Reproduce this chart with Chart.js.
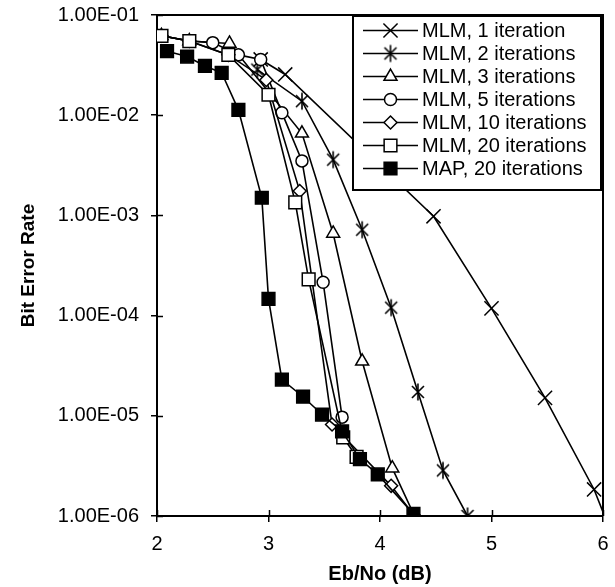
<!DOCTYPE html>
<html>
<head>
<meta charset="utf-8">
<script src="https://cdn.jsdelivr.net/npm/chart.js@4.4.1/dist/chart.umd.min.js"></script>
<style>
html,body{margin:0;padding:0;background:#fff;}
canvas{display:block;}
</style>
</head>
<body>
<canvas id="c" width="615" height="587"></canvas>
<script>
// ---- data ----
const seriesNames = ['MLM, 1 iteration','MLM, 2 iterations','MLM, 3 iterations','MLM, 5 iterations','MLM, 10 iterations','MLM, 20 iterations','MAP, 20 iterations'];

const mlm1X  = [2.93, 3.15, 4.48, 5.0, 5.48, 5.92, 6.2];
const mlm1Y  = [3.6e-2, 2.55e-2, 9.8e-4, 1.18e-4, 1.51e-5, 1.84e-6, 3.0e-7];

const mlm2X  = [2.9, 3.3, 3.58, 3.84, 4.1, 4.34, 4.565, 4.785];
const mlm2Y  = [2.85e-2, 1.38e-2, 3.6e-3, 7.2e-4, 1.2e-4, 1.73e-5, 2.85e-6, 1.0e-6];

const mlm3X  = [2.04, 2.29, 2.65, 3.3, 3.58, 3.84, 4.11, 4.31];
const mlm3Y  = [6.2e-2, 5.5e-2, 5.2e-2, 6.6e-3, 6.6e-4, 3.5e-5, 3.0e-6, 1.0e-6];

const mlm5X  = [2.04, 2.29, 2.5, 2.73, 2.93, 3.12, 3.3, 3.49, 3.66];
const mlm5Y  = [6.2e-2, 5.5e-2, 5.3e-2, 4.0e-2, 3.6e-2, 1.06e-2, 3.5e-3, 2.15e-4, 9.7e-6];

const mlm10X = [2.04, 2.29, 2.64, 2.98, 3.28, 3.57, 4.1, 4.31];
const mlm10Y = [6.2e-2, 5.5e-2, 4.0e-2, 2.25e-2, 1.75e-3, 8.2e-6, 2.0e-6, 1.0e-6];

const mlm20X = [2.04, 2.29, 2.64, 3.0, 3.24, 3.36, 3.67, 3.79];
const mlm20Y = [6.2e-2, 5.5e-2, 4.0e-2, 1.6e-2, 1.35e-3, 2.3e-4, 6.1e-6, 3.9e-6];

const mapX   = [2.09, 2.27, 2.43, 2.58, 2.73, 2.94, 3.0, 3.12, 3.31, 3.48, 3.66, 3.82, 3.98, 4.3];
const mapY   = [4.35e-2, 3.85e-2, 3.1e-2, 2.65e-2, 1.13e-2, 1.5e-3, 1.47e-4, 2.3e-5, 1.55e-5, 1.03e-5, 7.0e-6, 3.7e-6, 2.6e-6, 1.05e-6];

const xTickValues = [2, 3, 4, 5, 6];
const xTickLabels = ['2', '3', '4', '5', '6'];
const yTickValues = [1e-6, 1e-5, 1e-4, 1e-3, 1e-2, 1e-1];
const yTickLabels = ['1.00E-06', '1.00E-05', '1.00E-04', '1.00E-03', '1.00E-02', '1.00E-01'];

const xTitle = 'Eb/No (dB)';
const yTitle = 'Bit Error Rate';

// ---- build ----
const FONT = "'Liberation Sans', Arial, Helvetica, sans-serif";
const AREA = {left: 157, top: 15, right: 603, bottom: 516};
const W = 615, H = 587;

function pts(xs, ys) { return xs.map((x, i) => ({x: x, y: ys[i]})); }

// six-armed asterisk marker (X plus a vertical bar)
function makeAsterisk() {
  const c = document.createElement('canvas');
  c.width = 20; c.height = 20;
  const g = c.getContext('2d');
  g.strokeStyle = '#000';
  g.lineWidth = 1.6;
  g.lineCap = 'butt';
  g.beginPath();
  g.moveTo(10, 1.5); g.lineTo(10, 18.5);
  g.moveTo(4, 4); g.lineTo(16, 16);
  g.moveTo(16, 4); g.lineTo(4, 16);
  g.stroke();
  return c;
}
const asterisk = makeAsterisk();

const styles = [
  {pointStyle: 'crossRot', pointRadius: 10, bg: '#fff', order: 6, clip: 0},
  {pointStyle: asterisk,   pointRadius: 9,  bg: '#fff', order: 5},
  {pointStyle: 'triangle', pointRadius: 7.5, bg: '#fff', order: 4},
  {pointStyle: 'circle',   pointRadius: 6,   bg: '#fff', order: 3},
  {pointStyle: 'rectRot',  pointRadius: 6.5, bg: '#fff', order: 2},
  {pointStyle: 'rect',     pointRadius: 9,   bg: '#fff', order: 1},
  {pointStyle: 'rect',     pointRadius: 9,   bg: '#000', order: 0}
];
const seriesData = [
  pts(mlm1X, mlm1Y), pts(mlm2X, mlm2Y), pts(mlm3X, mlm3Y), pts(mlm5X, mlm5Y),
  pts(mlm10X, mlm10Y), pts(mlm20X, mlm20Y), pts(mapX, mapY)
];

const datasets = seriesNames.map((name, i) => {
  const s = styles[i];
  const d = {
    label: name,
    data: seriesData[i],
    borderColor: '#000',
    borderWidth: 1.6,
    backgroundColor: s.bg,
    pointStyle: s.pointStyle,
    pointRadius: s.pointRadius,
    pointHoverRadius: s.pointRadius,
    pointBackgroundColor: s.bg,
    pointBorderColor: '#000',
    pointBorderWidth: 1.5,
    tension: 0,
    fill: false,
    order: s.order
  };
  if (s.clip !== undefined) d.clip = s.clip;
  return d;
});

function drawMarker(ctx, style, r, x, y, bw) {
  if (Chart.helpers && Chart.helpers.drawPoint) {
    Chart.helpers.drawPoint(ctx, {pointStyle: style, radius: r, rotation: 0, borderWidth: bw}, x, y);
    return;
  }
  if (typeof style !== 'string') { ctx.drawImage(style, x - style.width / 2, y - style.height / 2); return; }
  ctx.beginPath();
  ctx.arc(x, y, r, 0, Math.PI * 2);
  ctx.fill(); ctx.stroke();
}

const framePlugin = {
  id: 'frameTicks',
  afterDatasetsDraw(chart) {
    const ctx = chart.ctx, a = chart.chartArea;
    ctx.save();
    ctx.strokeStyle = '#000';
    ctx.lineWidth = 2;
    ctx.beginPath();
    ctx.moveTo(a.left, a.top); ctx.lineTo(a.right, a.top); ctx.lineTo(a.right, a.bottom);
    ctx.stroke();
    ctx.lineWidth = 1.5;
    ctx.beginPath();
    chart.scales.y.ticks.forEach(t => {
      const py = Math.round(chart.scales.y.getPixelForValue(t.value)) + 0.5;
      ctx.moveTo(a.left, py); ctx.lineTo(a.left + 6, py);
    });
    chart.scales.x.ticks.forEach(t => {
      const px = Math.round(chart.scales.x.getPixelForValue(t.value)) + 0.5;
      ctx.moveTo(px, a.bottom); ctx.lineTo(px, a.bottom - 6);
    });
    ctx.stroke();
    ctx.restore();
  }
};

const legendPlugin = {
  id: 'boxLegend',
  afterDatasetsDraw(chart) {
    const ctx = chart.ctx;
    const L = {x: 353, y: 16, w: 248, h: 174, firstRow: 30.5, rowGap: 23, lineX0: 363, lineX1: 418, textX: 422};
    ctx.save();
    ctx.fillStyle = '#fff';
    ctx.fillRect(L.x, L.y, L.w, L.h);
    ctx.strokeStyle = '#000';
    ctx.lineWidth = 2;
    ctx.strokeRect(L.x, L.y, L.w, L.h);
    chart.data.datasets.forEach((ds, row) => {
      const cy = L.firstRow + row * L.rowGap;
      ctx.strokeStyle = '#000';
      ctx.lineWidth = ds.borderWidth;
      ctx.beginPath();
      ctx.moveTo(L.lineX0, cy); ctx.lineTo(L.lineX1, cy);
      ctx.stroke();
      ctx.fillStyle = ds.pointBackgroundColor;
      ctx.strokeStyle = '#000';
      ctx.lineWidth = ds.pointBorderWidth;
      drawMarker(ctx, ds.pointStyle, ds.pointRadius, (L.lineX0 + L.lineX1) / 2, cy, ds.pointBorderWidth);
      ctx.fillStyle = '#000';
      ctx.font = '20px ' + FONT;
      ctx.textAlign = 'left';
      ctx.textBaseline = 'middle';
      ctx.fillText(ds.label, L.textX, cy + 1);
    });
    ctx.restore();
  }
};

new Chart(document.getElementById('c').getContext('2d'), {
  type: 'line',
  data: {datasets: datasets},
  plugins: [framePlugin, legendPlugin],
  options: {
    responsive: false,
    animation: false,
    events: [],
    layout: {padding: {top: AREA.top, right: W - AREA.right, left: 0, bottom: 0}},
    plugins: {legend: {display: false}, tooltip: {enabled: false}},
    scales: {
      x: {
        type: 'linear', min: 2, max: 6,
        afterBuildTicks: s => { s.ticks = xTickValues.map(v => ({value: v})); },
        afterFit: s => { s.height = H - AREA.bottom; s.paddingLeft = 0; s.paddingRight = 0; },
        ticks: {
          callback: (v, i) => xTickLabels[i],
          font: {family: FONT, size: 20}, color: '#000', padding: 10,
          maxRotation: 0, autoSkip: false
        },
        grid: {drawOnChartArea: false, tickLength: 6, color: '#000', lineWidth: 1.5},
        border: {color: '#000', width: 2},
        title: {display: true, text: xTitle, color: '#000',
          font: {family: FONT, size: 20, weight: 'bold'}, padding: {top: 0, bottom: 1}}
      },
      y: {
        type: 'logarithmic', min: 1e-6, max: 1e-1,
        afterBuildTicks: s => { s.ticks = yTickValues.map(v => ({value: v, major: true})); },
        afterFit: s => { s.width = AREA.left; s.paddingTop = 0; s.paddingBottom = 0; },
        ticks: {
          callback: (v, i) => yTickLabels[i],
          font: {family: FONT, size: 20}, color: '#000', padding: 12, autoSkip: false
        },
        grid: {drawOnChartArea: false, tickLength: 6, color: '#000', lineWidth: 1.5},
        border: {color: '#000', width: 2},
        title: {display: true, text: yTitle, color: '#000',
          font: {family: FONT, size: 19, weight: 'bold'}, padding: {top: 17, bottom: 0}}
      }
    }
  }
});
</script>
</body>
</html>
